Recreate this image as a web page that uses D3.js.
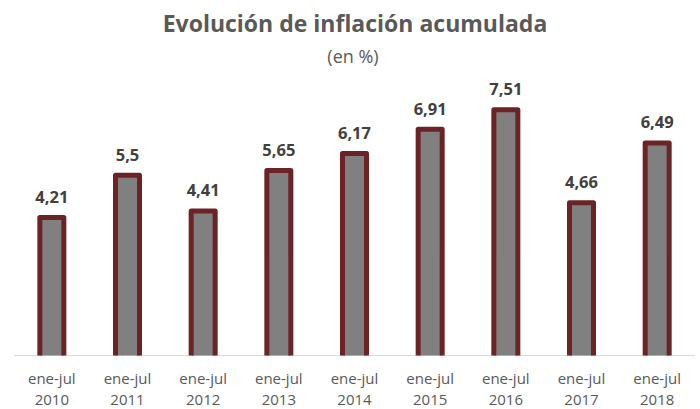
<!DOCTYPE html>
<html lang="es">
    <head>
        <meta charset="UTF-8" />
        <title>Evolución de inflación acumulada</title>
        <style>
            body { margin: 0; background: #fff; }
        </style>
    </head>
    <body>
        <div id="main"></div>
        <script src="https://cdn.jsdelivr.net/npm/d3@7/dist/d3.min.js"></script>
        <script>
            const periods = ["ene-jul", "ene-jul", "ene-jul", "ene-jul", "ene-jul", "ene-jul", "ene-jul", "ene-jul", "ene-jul"]
            const years = ["2010", "2011", "2012", "2013", "2014", "2015", "2016", "2017", "2018"]
            const values = [4.21, 5.5, 4.41, 5.65, 6.17, 6.91, 7.51, 4.66, 6.49]

            const svgWidth = 700
            const svgHeight = 409
            const fontFamily = "'Open Sans', sans-serif"
            const barWidth = 24
            const strokeWidth = 5

            const svg = d3.select("#main")
                .append("svg")
                .attr("width", svgWidth)
                .attr("height", svgHeight)

            const x = d3.scaleBand()
                .domain(years)
                .range([14, 695])

            const y = d3.scaleLinear()
                .domain([0, 9])
                .range([355, 61])

            // title
            svg.append("text")
                .attr("x", 355)
                .attr("y", 32)
                .attr("text-anchor", "middle")
                .attr("font-family", fontFamily)
                .attr("font-size", 23)
                .attr("font-weight", 700)
                .attr("fill", "#595959")
                .text("Evolución de inflación acumulada")
            svg.append("text")
                .attr("x", 353)
                .attr("y", 63)
                .attr("text-anchor", "middle")
                .attr("font-family", fontFamily)
                .attr("font-size", 18)
                .attr("fill", "#595959")
                .text("(en %)")

            // baseline
            svg.append("line")
                .attr("x1", x.range()[0])
                .attr("x2", x.range()[1])
                .attr("y1", y(0) + 0.5)
                .attr("y2", y(0) + 0.5)
                .attr("stroke", "#d9d9d9")
                .attr("stroke-width", 1)

            const cx = (d) => x(d) + x.bandwidth() / 2

            svg.append("defs")
                .append("clipPath")
                .attr("id", "plot")
                .append("rect")
                .attr("x", 0)
                .attr("y", 0)
                .attr("width", svgWidth)
                .attr("height", y(0) + 0.5)

            svg.append("g")
                .attr("clip-path", "url(#plot)")
                .selectAll("rect")
                .data(values)
                .enter()
                .append("rect")
                .attr("x", (d, i) => cx(years[i]) - barWidth / 2)
                .attr("y", (d) => y(d))
                .attr("width", barWidth)
                .attr("height", (d) => y(0) - y(d) + strokeWidth)
                .attr("fill", "#808080")
                .attr("stroke", "#6b2326")
                .attr("stroke-width", strokeWidth)
                .attr("stroke-linejoin", "round")

            // value labels
            svg.append("g")
                .selectAll("text")
                .data(values)
                .enter()
                .append("text")
                .attr("x", (d, i) => cx(years[i]))
                .attr("y", (d) => y(d) - 14.5)
                .attr("text-anchor", "middle")
                .attr("font-family", fontFamily)
                .attr("font-size", 16.5)
                .attr("font-weight", 700)
                .attr("fill", "#404040")
                .text((d) => String(d).replace(".", ","))

            // category labels, two lines each
            const tickGroup = svg.append("g")
                .attr("text-anchor", "middle")
                .attr("font-family", fontFamily)
                .attr("font-size", 15)
                .attr("fill", "#595959")
            tickGroup.selectAll("text.period")
                .data(years)
                .enter()
                .append("text")
                .classed("period", true)
                .attr("x", (d) => cx(d))
                .attr("y", 384)
                .text((d, i) => periods[i])
            tickGroup.selectAll("text.year")
                .data(years)
                .enter()
                .append("text")
                .classed("year", true)
                .attr("x", (d) => cx(d))
                .attr("y", 404.5)
                .text((d) => d)
        </script>
    </body>
</html>
